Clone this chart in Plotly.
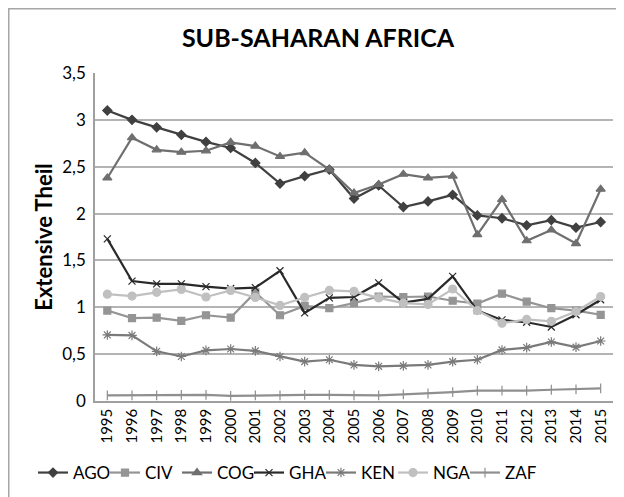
import plotly.graph_objects as go

years = [str(y) for y in range(1995, 2016)]

AGO = [3.10, 3.00, 2.92, 2.84, 2.765, 2.70, 2.54, 2.32, 2.40, 2.47, 2.16, 2.30, 2.07, 2.13, 2.20, 1.98, 1.95, 1.875, 1.93, 1.85, 1.91]
CIV = [0.965, 0.885, 0.89, 0.855, 0.915, 0.89, 1.16, 0.915, 1.015, 0.99, 1.045, 1.115, 1.11, 1.115, 1.07, 1.04, 1.145, 1.06, 0.99, 0.965, 0.92]
COG = [2.38, 2.81, 2.68, 2.655, 2.67, 2.76, 2.72, 2.61, 2.65, 2.47, 2.22, 2.31, 2.42, 2.38, 2.40, 1.775, 2.15, 1.71, 1.825, 1.68, 2.26]
GHA = [1.73, 1.28, 1.25, 1.25, 1.22, 1.20, 1.21, 1.39, 0.94, 1.10, 1.11, 1.26, 1.05, 1.09, 1.33, 0.965, 0.865, 0.84, 0.79, 0.92, 1.08]
KEN = [0.705, 0.70, 0.53, 0.475, 0.54, 0.555, 0.535, 0.475, 0.42, 0.44, 0.385, 0.37, 0.375, 0.385, 0.42, 0.44, 0.545, 0.57, 0.63, 0.575, 0.64]
NGA = [1.14, 1.12, 1.16, 1.19, 1.11, 1.18, 1.105, 1.02, 1.105, 1.18, 1.17, 1.10, 1.045, 1.03, 1.195, 0.965, 0.83, 0.87, 0.85, 0.955, 1.115]
ZAF = [0.06, 0.06, 0.06, 0.065, 0.065, 0.055, 0.06, 0.06, 0.065, 0.065, 0.06, 0.06, 0.07, 0.08, 0.095, 0.11, 0.11, 0.11, 0.12, 0.125, 0.135]

series = [
    ("AGO", AGO, "#404040", "diamond", 7),
    ("CIV", CIV, "#959595", "square", 7),
    ("COG", COG, "#6f6f6f", "triangle-up", 8),
    ("GHA", GHA, "#2a2a2a", "x-thin-open", 7),
    ("KEN", KEN, "#7a7a7a", "asterisk-open", 8),
    ("NGA", NGA, "#c0c0c0", "circle", 8),
    ("ZAF", ZAF, "#8f8f8f", "line-ns-open", 7),
]

FONT = "Lato, Open Sans, sans-serif"

# page has an 8px body margin; figure coords = page coords - 8
L, T, R, B = 87, 65, 19, 104
PW, PH = 624 - L - R, 497 - T - B

fig = go.Figure()
for name, vals, color, sym, size in series:
    fig.add_trace(go.Scatter(
        x=years, y=vals, name=name, mode="lines+markers",
        line=dict(color=color, width=2.2),
        marker=dict(symbol=sym, size=size, color=color,
                    line=dict(color=color, width=1.2)),
    ))

fig.update_layout(
    width=624, height=497,
    paper_bgcolor="white", plot_bgcolor="white",
    separators=", ",
    margin=dict(l=L, r=R, t=T, b=B),
    font=dict(family=FONT, color="#000000", size=14),
    title=dict(text="<b>SUB-SAHARAN AFRICA</b>", x=310 / 624, xanchor="center",
               y=1 - 30 / 497, yanchor="middle",
               font=dict(family=FONT, size=25, color="#000000")),
    showlegend=True,
    legend=dict(orientation="h", x=(25 - L) / PW, xanchor="left",
                y=-(465 - (497 - B)) / PH, yanchor="middle",
                font=dict(family=FONT, size=17), itemwidth=30, tracegroupgap=0,
                entrywidth=27, entrywidthmode="pixels"),
    shapes=[dict(type="rect", xref="paper", yref="paper",
                 x0=(0.75 - L) / PW, x1=(700 - L) / PW,
                 y0=-(600 - (497 - B)) / PH, y1=((497 - B) - 0.75) / PH,
                 line=dict(color="#a6a6a6", width=1.5), layer="below")],
)

fig.update_xaxes(
    type="category", tickangle=-90, showgrid=False, automargin=False,
    showline=True, linecolor="#a0a0a0", linewidth=1.5,
    ticks="", tickfont=dict(family=FONT, size=15, color="#000000"),
    range=[-0.5, 20.5],
)
fig.update_yaxes(
    range=[0, 3.5], dtick=0.5, showgrid=True, gridcolor="#b4b4b4", gridwidth=1.5,
    showline=True, linecolor="#a0a0a0", linewidth=1.5, zeroline=False, automargin=False,
    ticks="", tickfont=dict(family=FONT, size=17, color="#000000"), ticklabelstandoff=4,
    title=dict(text="<b>Extensive Theil</b>", font=dict(family=FONT, size=22, color="#000000"),
               standoff=4),
)

fig.write_html("out.html")
